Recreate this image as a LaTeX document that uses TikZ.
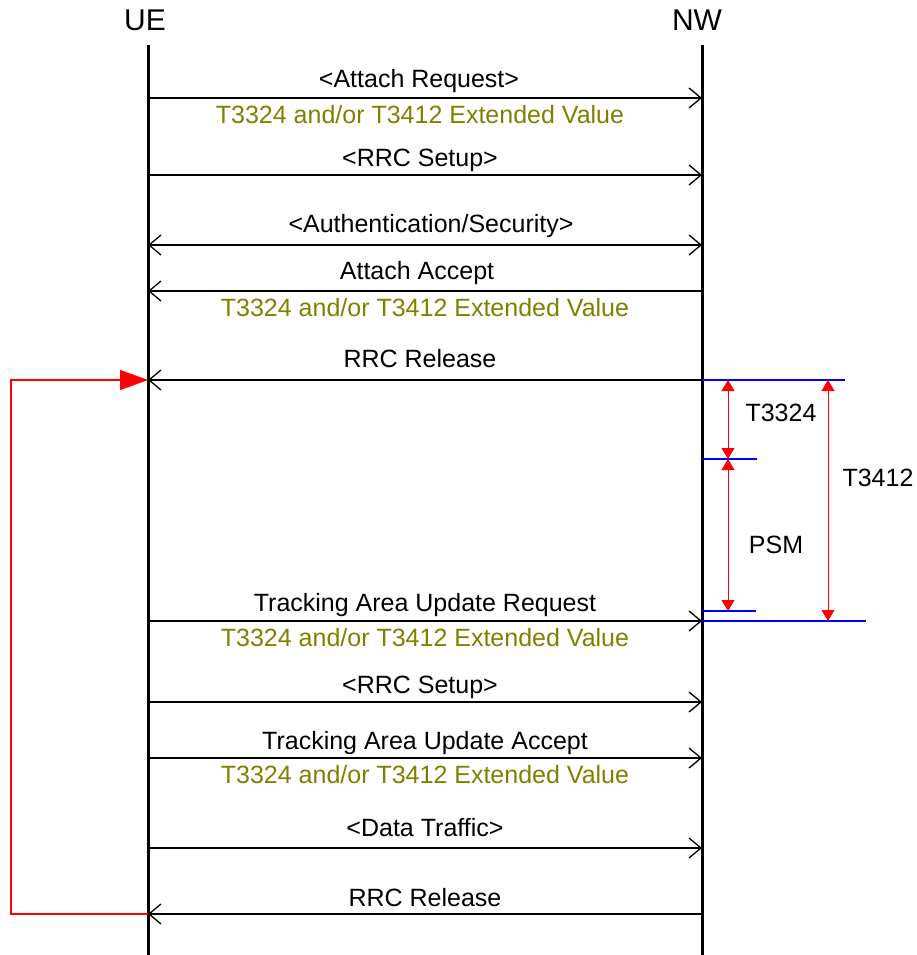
\documentclass[tikz,border=0pt]{standalone}
\usepackage{fontspec}
\setmainfont{Liberation Sans}
\usetikzlibrary{arrows.meta}
\definecolor{extval}{RGB}{128,128,0}

\begin{document}
\begin{tikzpicture}[x=1pt,y=-1pt,
  font=\fontsize{25}{28}\selectfont,
  >={Straight Barb[length=12pt,width=20pt]},
  life/.style={line width=3pt},
  msg/.style={line width=1.3pt},
  lbl/.style={above=#1, inner sep=0pt, text depth=0pt},
  lbl/.default=10pt,
  ext/.style={below=7pt, inner sep=0pt, text height=17.5pt, text depth=0pt, text=extval},
  timer/.style={red, line width=1pt, {Triangle[length=11pt,width=13pt]}-{Triangle[length=11pt,width=13pt]}},
  bound/.style={blue, line width=1.3pt},
  loopback/.style={red, line width=1.5pt, -{Triangle[length=28pt,width=20pt]}}
]
\useasboundingbox (0,0) rectangle (917,955);

\node[font=\fontsize{30}{34}\selectfont] (ue) at (145,20) {UE};
\node[font=\fontsize{30}{34}\selectfont] (nw) at (697,20) {NW};

\foreach \n/\y in {1/98, 2/175, 3/245, 4/291, 5/380, 6/621, 7/702, 8/758, 9/848, 10/914} {
  \coordinate (ue\n) at (148,\y);
  \coordinate (nw\n) at (702,\y);
}

\draw[msg,->] (ue1) -- node[lbl, xshift=-6pt] {<Attach Request>} node[ext, xshift=-5pt] {T3324 and/or T3412 Extended Value} (nw1);
\draw[msg,->] (ue2) -- node[lbl=8pt, xshift=-5pt] {<RRC Setup>} (nw2);
\draw[msg,<->] (ue3) -- node[lbl=12pt, xshift=6pt] {<Authentication/Security>} (nw3);
\draw[msg,<-] (ue4) -- node[lbl=11pt, xshift=-8pt] {Attach Accept} node[ext] {T3324 and/or T3412 Extended Value} (nw4);
\draw[msg,<-] (ue5) -- node[lbl=12pt, xshift=-5pt] {RRC Release} (nw5);
\draw[msg,->] (ue6) -- node[lbl=9pt] {Tracking Area Update Request} node[ext] {T3324 and/or T3412 Extended Value} (nw6);
\draw[msg,->] (ue7) -- node[lbl=8pt, xshift=-5pt] {<RRC Setup>} (nw7);
\draw[msg,->] (ue8) -- node[lbl=8pt] {Tracking Area Update Accept} node[ext] {T3324 and/or T3412 Extended Value} (nw8);
\draw[msg,->] (ue9) -- node[lbl=11pt] {<Data Traffic>} (nw9);
\draw[msg,<-] (ue10) -- node[lbl=7pt] {RRC Release} (nw10);

\coordinate (ueTop) at (148,45);
\coordinate (ueBot) at (148,955);
\coordinate (nwTop) at (702,45);
\coordinate (nwBot) at (702,955);
\draw[life] (ueTop) -- (ueBot);
\draw[life] (nwTop) -- (nwBot);

% timers on the network side
\coordinate (m0) at (845,380);
\coordinate (m1a) at (702,459);
\coordinate (m1) at (757,459);
\coordinate (m2a) at (702,611);
\coordinate (m2) at (756,611);
\coordinate (m3) at (866,621);
\draw[bound] (nw5) -- (m0);
\draw[bound] (m1a) -- (m1);
\draw[bound] (m2a) -- (m2);
\draw[bound] (nw6) -- (m3);

\coordinate (s0) at (728,380);
\coordinate (s1) at (728,459);
\coordinate (s2) at (728,611);
\coordinate (l0) at (828,380);
\coordinate (l1) at (828,621);
\draw[timer] (s0) -- (s1);
\draw[timer] (s1) -- (s2);
\draw[timer] (l0) -- (l1);

\node (t3324) at (781,413) {T3324};
\node (psm) at (776,545) {PSM};
\node (t3412) at (878,478) {T3412};

% loop back after release
\coordinate (back) at (11,914);
\draw[loopback] (ue10) -- (back) |- (ue5);

\end{tikzpicture}
\end{document}
